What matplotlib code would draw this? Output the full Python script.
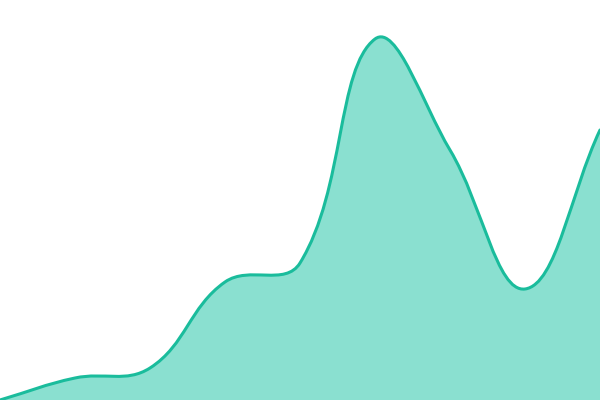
import numpy as np
import matplotlib
matplotlib.use("Agg")
import matplotlib.pyplot as plt
from matplotlib.path import Path
from matplotlib.patches import PathPatch

# data: one value per step, height above the baseline
steps = list(range(9))
values = [0, 22, 32, 118, 137, 361, 250, 111, 270]

line_color = "#1abc9c"
fill_color = "#8ae0d0"
tension = 0.4

fig = plt.figure(figsize=(6, 4), dpi=100)
ax = fig.add_axes([0, 0, 1, 1])
ax.set_xlim(steps[0], steps[-1])
ax.set_ylim(0, 400)
ax.axis("off")

# spline control points worked out in display space (like a canvas chart would)
pts = ax.transData.transform(np.column_stack([steps, values]))
n = len(pts)
cp_prev = [None] * n
cp_next = [None] * n
for i in range(n):
    p1 = pts[i]
    p0 = pts[i - 1] if i > 0 else p1
    p2 = pts[i + 1] if i < n - 1 else p1
    d01 = np.hypot(*(p1 - p0))
    d12 = np.hypot(*(p2 - p1))
    tot = d01 + d12
    s01 = d01 / tot if tot else 0
    s12 = d12 / tot if tot else 0
    fa = tension * s01
    fb = tension * s12
    cp_prev[i] = p1 - fa * (p2 - p0)
    cp_next[i] = p1 + fb * (p2 - p0)

verts = [pts[0]]
codes = [Path.MOVETO]
for i in range(n - 1):
    verts += [cp_next[i], cp_prev[i + 1], pts[i + 1]]
    codes += [Path.CURVE4] * 3

inv = ax.transData.inverted()
line_verts = inv.transform(np.array(verts))
line_path = Path(line_verts, codes)

base_r = [steps[-1], 0]
base_l = [steps[0], 0]
fill_verts = np.vstack([line_verts, [base_r, base_l, line_verts[0]]])
fill_codes = codes + [Path.LINETO, Path.LINETO, Path.CLOSEPOLY]

ax.add_patch(PathPatch(Path(fill_verts, fill_codes), facecolor=fill_color, edgecolor="none"))
ax.add_patch(PathPatch(line_path, facecolor="none", edgecolor=line_color, linewidth=2.2,
                       capstyle="round", joinstyle="round"))

fig.savefig("out.png", dpi=100)
